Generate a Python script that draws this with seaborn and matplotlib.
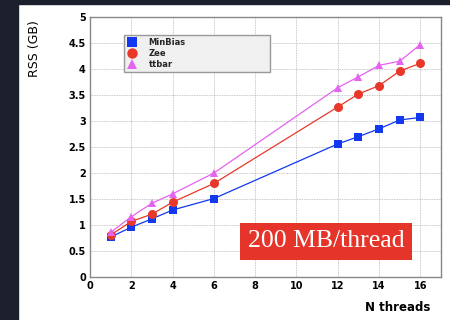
import matplotlib
matplotlib.use("Agg")
import matplotlib.pyplot as plt
from matplotlib.lines import Line2D
from matplotlib.patches import Rectangle
from matplotlib.ticker import MultipleLocator
import pandas as pd
import seaborn as sns

threads = [1, 2, 3, 4, 6, 12, 13, 14, 15, 16]
minbias = [0.77, 0.96, 1.12, 1.29, 1.51, 2.56, 2.70, 2.85, 3.02, 3.07]
zee = [0.81, 1.07, 1.21, 1.44, 1.80, 3.27, 3.52, 3.68, 3.96, 4.11]
ttbar = [0.86, 1.16, 1.42, 1.60, 2.00, 3.64, 3.85, 4.07, 4.15, 4.47]

names = ["MinBias", "Zee", "ttbar"]
colors = {"MinBias": "#1238f0", "Zee": "#e8382a", "ttbar": "#e463ef"}
marks = {"MinBias": "s", "Zee": "o", "ttbar": "^"}
msizes = {"MinBias": 5.5, "Zee": 6.5, "ttbar": 6}

df = pd.DataFrame({
    "threads": threads * 3,
    "rss": minbias + zee + ttbar,
    "sample": sum([[n] * len(threads) for n in names], []),
})

sns.set_style("white")
plt.rcParams["font.family"] = ["DejaVu Sans"]

fig = plt.figure(figsize=(4.5, 3.2), dpi=100)
fig.patch.set_facecolor("white")
# dark slide border
fig.add_artist(Rectangle((0, 0), 18 / 450, 1, transform=fig.transFigure,
                         color="#1b202c", zorder=0))
fig.add_artist(Rectangle((0, 1 - 4 / 320), 1, 4 / 320, transform=fig.transFigure,
                         color="#1b202c", zorder=0))

ax = fig.add_axes([0.2, 0.134, 0.78, 0.813])
for n in names:
    sub = df[df["sample"] == n]
    sns.lineplot(data=sub, x="threads", y="rss", ax=ax, color=colors[n],
                 marker=marks[n], markersize=msizes[n], markeredgewidth=0,
                 linewidth=0.9, legend=False)

ax.set_xlim(0, 17)
ax.set_ylim(0, 5)
ax.xaxis.set_major_locator(MultipleLocator(2))
ax.xaxis.set_minor_locator(MultipleLocator(1))
ax.set_yticks([0, 0.5, 1, 1.5, 2, 2.5, 3, 3.5, 4, 4.5, 5])
ax.set_yticklabels(["0", "0.5", "1", "1.5", "2", "2.5", "3", "3.5", "4", "4.5", "5"])
ax.grid(True, which="major", linestyle=(0, (1, 1)), color="#b5b5b5", linewidth=0.6)
ax.tick_params(which="both", direction="in", colors="#777777", labelcolor="black",
               labelsize=7, pad=3)
ax.tick_params(which="major", length=7, width=0.9)
ax.tick_params(which="minor", length=4.3, width=0.9)
for lbl in ax.get_xticklabels() + ax.get_yticklabels():
    lbl.set_fontweight("bold")
for s in ax.spines.values():
    s.set_color("#888888")
    s.set_linewidth(1)

ax.set_xlabel("N threads", loc="right", fontsize=8.5, fontweight="bold", color="black")
ax.xaxis.set_label_coords(0.969, -0.091)
ax.set_ylabel("RSS (GB)", loc="top", fontsize=9, color="black")
ax.yaxis.set_label_coords(-0.14, 0.988)

handles = [Line2D([], [], linestyle="none", marker=marks[n], color=colors[n],
                  markersize=msizes[n] + 1, markeredgewidth=0) for n in names]
leg = ax.legend(handles, names, loc="upper left", mode="expand",
                bbox_to_anchor=(0.097, 0.796, 0.416, 0.136),
                prop={"size": 6, "weight": "bold"}, frameon=True, fancybox=False,
                facecolor="#f0f0f0", edgecolor="#999999", framealpha=1,
                labelspacing=0.25, borderpad=0.35, handlelength=1.2,
                handletextpad=1.4, borderaxespad=0)
leg.get_frame().set_linewidth(1)

ax.text(0.673, 0.137, "200 MB/thread", transform=ax.transAxes, ha="center",
        va="center", color="white", fontsize=18.5, family="Liberation Serif",
        bbox=dict(boxstyle="square,pad=0.3", facecolor="#e5352a", edgecolor="none"))

fig.savefig("out.png", dpi=100, facecolor=fig.get_facecolor())
